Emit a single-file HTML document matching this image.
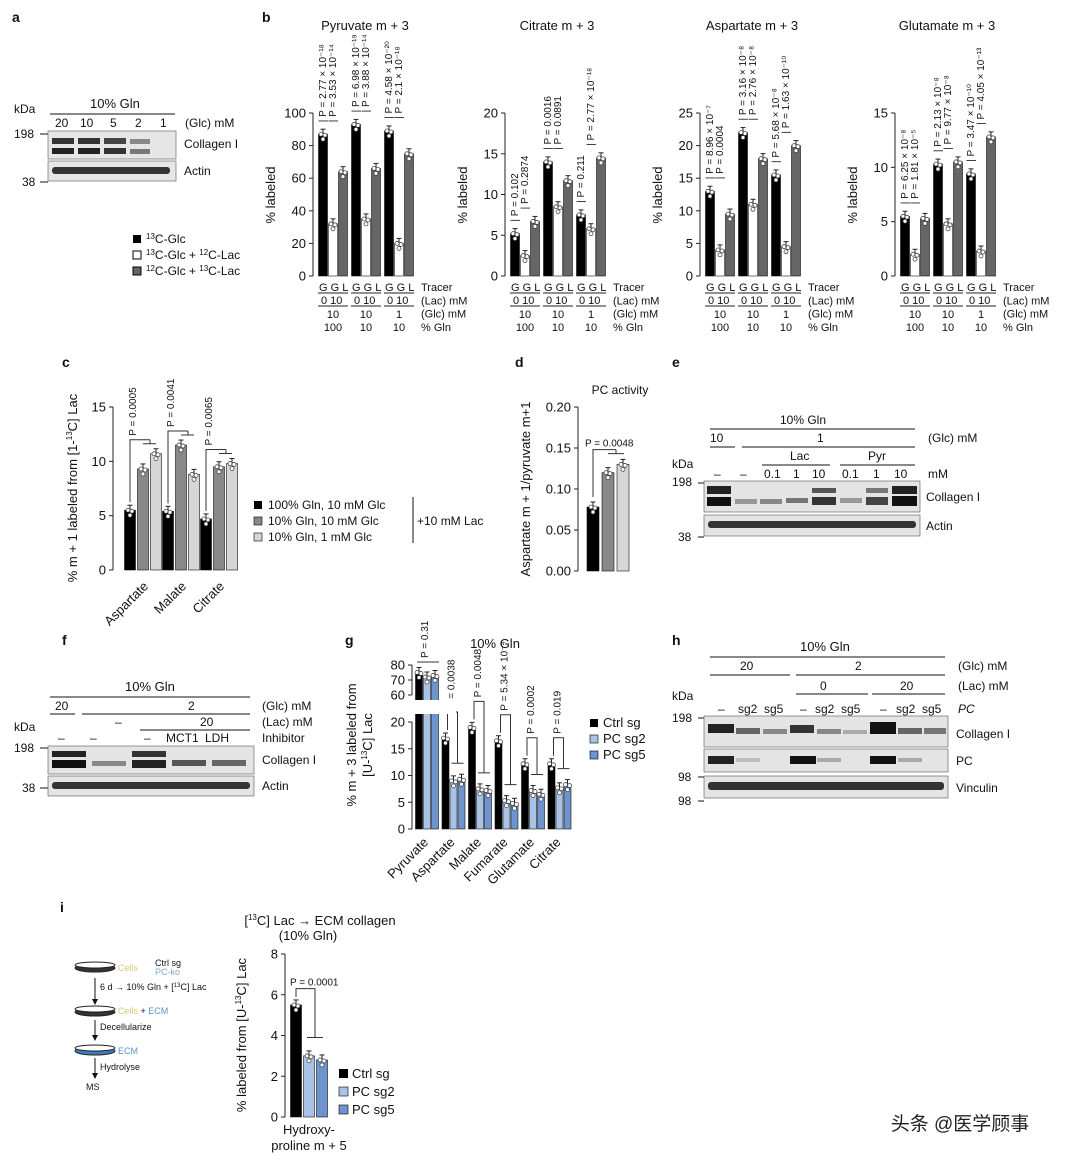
<!DOCTYPE html>
<html><head><meta charset="utf-8">
<style>
html,body{margin:0;padding:0;background:#fff}
svg{display:block;font-family:"Liberation Sans","Noto Sans CJK SC",sans-serif}
</style></head>
<body>
<svg id="fig" width="1080" height="1159" viewBox="0 0 1080 1159" xmlns="http://www.w3.org/2000/svg">
<g id="static" font-size="12" fill="#111">
  <!-- panel labels -->
  <text x="12" y="22" font-weight="bold" font-size="14">a</text>
  <text x="262" y="22" font-weight="bold" font-size="14">b</text>
  <text x="62" y="367" font-weight="bold" font-size="14">c</text>
  <text x="515" y="367" font-weight="bold" font-size="14">d</text>
  <text x="672" y="367" font-weight="bold" font-size="14">e</text>
  <text x="62" y="645" font-weight="bold" font-size="14">f</text>
  <text x="345" y="645" font-weight="bold" font-size="14">g</text>
  <text x="672" y="645" font-weight="bold" font-size="14">h</text>
  <text x="60" y="912" font-weight="bold" font-size="14">i</text>

  <!-- panel a blot -->
  <g>
    <text x="14" y="113">kDa</text>
    <text x="90" y="108" font-size="13">10% Gln</text>
    <line x1="50" y1="114" x2="175" y2="114" stroke="#111"/>
    <text x="55" y="127">20</text><text x="80" y="127">10</text><text x="110" y="127">5</text><text x="135" y="127">2</text><text x="160" y="127">1</text>
    <text x="185" y="127">(Glc) mM</text>
    <text x="14" y="138">198</text><line x1="40" y1="134" x2="48" y2="134" stroke="#111"/>
    <text x="22" y="186">38</text><line x1="40" y1="182" x2="48" y2="182" stroke="#111"/>
    <rect x="48" y="131" width="128" height="28" fill="#e6e6e6" stroke="#555" stroke-width="0.6"/>
    <rect x="52" y="138" width="22" height="6" fill="#333"/><rect x="52" y="148" width="22" height="6" fill="#222"/>
    <rect x="78" y="138" width="22" height="6" fill="#333"/><rect x="78" y="148" width="22" height="6" fill="#222"/>
    <rect x="104" y="138" width="22" height="6" fill="#444"/><rect x="104" y="148" width="22" height="6" fill="#333"/>
    <rect x="130" y="139" width="20" height="5" fill="#888"/><rect x="130" y="149" width="20" height="5" fill="#777"/>
    <text x="184" y="148">Collagen I</text>
    <rect x="48" y="161" width="128" height="20" fill="#e6e6e6" stroke="#555" stroke-width="0.6"/>
    <rect x="52" y="167" width="118" height="7" rx="3" fill="#333"/>
    <text x="184" y="175">Actin</text>
  </g>
  <!-- legend a/b -->
  <g>
    <rect x="133" y="235" width="8" height="8" fill="#000"/><text x="146" y="243"><tspan font-size="8" dy="-4">13</tspan><tspan dy="4">C-Glc</tspan></text>
    <rect x="133" y="251" width="8" height="8" fill="#fff" stroke="#000"/><text x="146" y="259"><tspan font-size="8" dy="-4">13</tspan><tspan dy="4">C-Glc + </tspan><tspan font-size="8" dy="-4">12</tspan><tspan dy="4">C-Lac</tspan></text>
    <rect x="133" y="267" width="8" height="8" fill="#666" stroke="#000"/><text x="146" y="275"><tspan font-size="8" dy="-4">12</tspan><tspan dy="4">C-Glc + </tspan><tspan font-size="8" dy="-4">13</tspan><tspan dy="4">C-Lac</tspan></text>
  </g>

  <!-- panel c legend -->
  <g>
    <rect x="254" y="501" width="8" height="8" fill="#000"/><text x="268" y="509">100% Gln, 10 mM Glc</text>
    <rect x="254" y="517" width="8" height="8" fill="#888" stroke="#000" stroke-width="0.6"/><text x="268" y="525">10% Gln, 10 mM Glc</text>
    <rect x="254" y="533" width="8" height="8" fill="#d6d6d6" stroke="#000" stroke-width="0.6"/><text x="268" y="541">10% Gln, 1 mM Glc</text>
    <line x1="413" y1="497" x2="413" y2="543" stroke="#111"/>
    <text x="417" y="525">+10 mM Lac</text>
  </g>
  <text x="620" y="394" text-anchor="middle">PC activity</text>

  <!-- panel e blot -->
  <g>
    <text x="780" y="424">10% Gln</text>
    <line x1="710" y1="429" x2="915" y2="429" stroke="#111"/>
    <text x="710" y="442">10</text><text x="817" y="442">1</text>
    <line x1="710" y1="447" x2="735" y2="447" stroke="#111"/><line x1="742" y1="447" x2="915" y2="447" stroke="#111"/>
    <text x="928" y="442">(Glc) mM</text>
    <text x="790" y="460">Lac</text><text x="868" y="460">Pyr</text>
    <line x1="762" y1="465" x2="830" y2="465" stroke="#111"/><line x1="840" y1="465" x2="915" y2="465" stroke="#111"/>
    <text x="672" y="468">kDa</text>
    <text x="714" y="478">–</text><text x="740" y="478">–</text><text x="764" y="478">0.1</text><text x="793" y="478">1</text><text x="812" y="478">10</text><text x="842" y="478">0.1</text><text x="873" y="478">1</text><text x="894" y="478">10</text>
    <text x="928" y="478">mM</text>
    <text x="672" y="486">198</text><line x1="698" y1="483" x2="704" y2="483" stroke="#111"/>
    <text x="678" y="541">38</text><line x1="698" y1="537" x2="704" y2="537" stroke="#111"/>
    <rect x="704" y="481" width="216" height="31" fill="#e4e4e4" stroke="#555" stroke-width="0.6"/>
    <rect x="707" y="486" width="24" height="8" fill="#222"/><rect x="707" y="497" width="24" height="9" fill="#111"/>
    <rect x="735" y="499" width="22" height="5" fill="#999"/>
    <rect x="760" y="499" width="22" height="5" fill="#888"/>
    <rect x="786" y="498" width="22" height="5" fill="#777"/>
    <rect x="812" y="488" width="24" height="5" fill="#555"/><rect x="812" y="497" width="24" height="8" fill="#333"/>
    <rect x="840" y="498" width="22" height="5" fill="#999"/>
    <rect x="866" y="488" width="22" height="5" fill="#777"/><rect x="866" y="497" width="22" height="8" fill="#444"/>
    <rect x="892" y="486" width="25" height="8" fill="#222"/><rect x="892" y="496" width="25" height="10" fill="#111"/>
    <text x="926" y="501">Collagen I</text>
    <rect x="704" y="515" width="216" height="21" fill="#e4e4e4" stroke="#555" stroke-width="0.6"/>
    <rect x="708" y="521" width="208" height="7" rx="3" fill="#333"/>
    <text x="926" y="530">Actin</text>
  </g>

  <!-- panel f blot -->
  <g>
    <text x="125" y="691" font-size="13">10% Gln</text>
    <line x1="50" y1="697" x2="250" y2="697" stroke="#111"/>
    <text x="55" y="710">20</text><text x="188" y="710">2</text>
    <line x1="50" y1="714" x2="75" y2="714" stroke="#111"/><line x1="82" y1="714" x2="250" y2="714" stroke="#111"/>
    <text x="262" y="710">(Glc) mM</text>
    <text x="115" y="726">–</text><text x="200" y="726">20</text>
    <line x1="140" y1="730" x2="250" y2="730" stroke="#111"/>
    <text x="262" y="726">(Lac) mM</text>
    <text x="14" y="731">kDa</text>
    <text x="58" y="742">–</text><text x="90" y="742">–</text><text x="144" y="742">–</text><text x="166" y="742">MCT1</text><text x="205" y="742">LDH</text>
    <text x="262" y="742">Inhibitor</text>
    <text x="14" y="752">198</text><line x1="40" y1="748" x2="48" y2="748" stroke="#111"/>
    <text x="22" y="792">38</text><line x1="40" y1="788" x2="48" y2="788" stroke="#111"/>
    <rect x="48" y="746" width="206" height="28" fill="#e4e4e4" stroke="#555" stroke-width="0.6"/>
    <rect x="52" y="751" width="34" height="6" fill="#222"/><rect x="52" y="760" width="34" height="8" fill="#111"/>
    <rect x="92" y="761" width="34" height="5" fill="#888"/>
    <rect x="132" y="751" width="34" height="6" fill="#333"/><rect x="132" y="760" width="34" height="8" fill="#222"/>
    <rect x="172" y="760" width="34" height="6" fill="#555"/>
    <rect x="212" y="760" width="34" height="6" fill="#666"/>
    <text x="262" y="764">Collagen I</text>
    <rect x="48" y="776" width="206" height="20" fill="#e4e4e4" stroke="#555" stroke-width="0.6"/>
    <rect x="52" y="782" width="198" height="7" rx="3" fill="#333"/>
    <text x="262" y="790">Actin</text>
  </g>

  <!-- panel g legend -->
  <g>
    <rect x="590" y="719" width="8" height="8" fill="#000"/><text x="603" y="727" font-size="13">Ctrl sg</text>
    <rect x="590" y="735" width="8" height="8" fill="#a9c3e6" stroke="#000" stroke-width="0.6"/><text x="603" y="743" font-size="13">PC sg2</text>
    <rect x="590" y="751" width="8" height="8" fill="#6f93cc" stroke="#000" stroke-width="0.6"/><text x="603" y="759" font-size="13">PC sg5</text>
  </g>
  <text x="495" y="648" text-anchor="middle" font-size="13">10% Gln</text>

  <!-- panel h blot -->
  <g>
    <text x="800" y="651" font-size="13">10% Gln</text>
    <line x1="710" y1="657" x2="945" y2="657" stroke="#111"/>
    <text x="740" y="670">20</text><text x="855" y="670">2</text>
    <line x1="710" y1="675" x2="790" y2="675" stroke="#111"/><line x1="796" y1="675" x2="945" y2="675" stroke="#111"/>
    <text x="958" y="670">(Glc) mM</text>
    <text x="820" y="690">0</text><text x="900" y="690">20</text>
    <line x1="796" y1="694" x2="868" y2="694" stroke="#111"/><line x1="872" y1="694" x2="945" y2="694" stroke="#111"/>
    <text x="958" y="690">(Lac) mM</text>
    <text x="672" y="700">kDa</text>
    <text x="718" y="713">–</text><text x="738" y="713">sg2</text><text x="764" y="713">sg5</text>
    <text x="800" y="713">–</text><text x="815" y="713">sg2</text><text x="841" y="713">sg5</text>
    <text x="880" y="713">–</text><text x="896" y="713">sg2</text><text x="922" y="713">sg5</text>
    <text x="958" y="713" font-style="italic">PC</text>
    <text x="672" y="722">198</text><line x1="698" y1="718" x2="704" y2="718" stroke="#111"/>
    <text x="678" y="781">98</text><line x1="698" y1="777" x2="704" y2="777" stroke="#111"/>
    <text x="678" y="805">98</text><line x1="698" y1="801" x2="704" y2="801" stroke="#111"/>
    <rect x="704" y="716" width="244" height="31" fill="#e4e4e4" stroke="#555" stroke-width="0.6"/>
    <rect x="708" y="724" width="26" height="9" fill="#222"/><rect x="736" y="728" width="24" height="6" fill="#666"/><rect x="763" y="729" width="24" height="5" fill="#888"/>
    <rect x="790" y="725" width="24" height="8" fill="#333"/><rect x="817" y="729" width="24" height="5" fill="#888"/><rect x="843" y="730" width="24" height="4" fill="#aaa"/>
    <rect x="870" y="722" width="26" height="12" fill="#111"/><rect x="898" y="728" width="24" height="6" fill="#666"/><rect x="924" y="728" width="22" height="6" fill="#777"/>
    <text x="956" y="738">Collagen I</text>
    <rect x="704" y="749" width="244" height="23" fill="#e4e4e4" stroke="#555" stroke-width="0.6"/>
    <rect x="708" y="756" width="26" height="8" fill="#222"/><rect x="736" y="758" width="24" height="4" fill="#bbb"/>
    <rect x="790" y="756" width="26" height="8" fill="#111"/><rect x="817" y="758" width="24" height="4" fill="#aaa"/>
    <rect x="870" y="756" width="26" height="8" fill="#111"/><rect x="898" y="758" width="24" height="4" fill="#aaa"/>
    <text x="956" y="765">PC</text>
    <rect x="704" y="776" width="244" height="22" fill="#e4e4e4" stroke="#555" stroke-width="0.6"/>
    <rect x="708" y="782" width="236" height="8" rx="3" fill="#333"/>
    <text x="956" y="792">Vinculin</text>
  </g>

  <!-- panel i schematic -->
  <g font-size="9">
    <ellipse cx="95" cy="968" rx="20" ry="4" fill="#333" stroke="#222"/><ellipse cx="95" cy="965" rx="20" ry="3" fill="#fff" stroke="#222"/>
    <text x="118" y="971" fill="#d8cc70">Cells</text><text x="155" y="966">Ctrl sg</text><text x="155" y="975" fill="#7aa8d8">PC-ko</text>
    <line x1="95" y1="978" x2="95" y2="1002" stroke="#111"/><path d="M92,999 L95,1005 L98,999Z" fill="#111"/>
    <text x="100" y="990">6 d → 10% Gln + [<tspan font-size="6" dy="-3">13</tspan><tspan dy="3">C] Lac</tspan></text>
    <ellipse cx="95" cy="1012" rx="20" ry="4" fill="#333" stroke="#222"/><ellipse cx="95" cy="1009" rx="20" ry="3" fill="#fff" stroke="#222"/>
    <text x="118" y="1014"><tspan fill="#d8cc70">Cells</tspan> + <tspan fill="#5d95cc">ECM</tspan></text>
    <line x1="95" y1="1020" x2="95" y2="1038" stroke="#111"/><path d="M92,1035 L95,1041 L98,1035Z" fill="#111"/>
    <text x="100" y="1030">Decellularize</text>
    <ellipse cx="95" cy="1051" rx="20" ry="4" fill="#3e7bbd" stroke="#222"/><ellipse cx="95" cy="1048" rx="20" ry="3" fill="#fff" stroke="#222"/>
    <text x="118" y="1054" fill="#5d95cc">ECM</text>
    <line x1="95" y1="1058" x2="95" y2="1076" stroke="#111"/><path d="M92,1073 L95,1079 L98,1073Z" fill="#111"/>
    <text x="100" y="1070">Hydrolyse</text>
    <text x="86" y="1090">MS</text>
  </g>
  <g font-size="13">
    <text x="320" y="925" text-anchor="middle">[<tspan font-size="8" dy="-5">13</tspan><tspan dy="5">C] Lac → ECM collagen</tspan></text>
    <text x="308" y="940" text-anchor="middle">(10% Gln)</text>
  </g>
  <g font-size="13">
    <rect x="339" y="1069" width="9" height="9" fill="#000"/><text x="352" y="1078">Ctrl sg</text>
    <rect x="339" y="1087" width="9" height="9" fill="#a9c3e6" stroke="#000" stroke-width="0.6"/><text x="352" y="1096">PC sg2</text>
    <rect x="339" y="1105" width="9" height="9" fill="#6f93cc" stroke="#000" stroke-width="0.6"/><text x="352" y="1114">PC sg5</text>
  </g>
  <text x="960" y="1130" font-size="19" text-anchor="middle" fill="#222">头条 @医学顾事</text>
</g>
<g id="charts"></g>
</svg>
<script>
// ---- Panel b data ----
const bTitles = ["Pyruvate m + 3", "Citrate m + 3", "Aspartate m + 3", "Glutamate m + 3"];
const pyruvateVals = [[87, 32, 64], [93, 35, 66], [89, 20, 75]];
const citrateVals = [[5.2, 2.5, 6.7], [14, 8.5, 11.7], [7.5, 5.8, 14.5]];
const aspartateVals = [[13, 4, 9.5], [22, 11, 18], [15.5, 4.5, 20]];
const glutamateVals = [[5.5, 2, 5.3], [10.3, 4.8, 10.5], [9.4, 2.3, 12.8]];
const pyruvateTicks = [0, 20, 40, 60, 80, 100];
const citrateTicks = [0, 5, 10, 15, 20];
const aspartateTicks = [0, 5, 10, 15, 20, 25];
const glutamateTicks = [0, 5, 10, 15];
const bPvals = [
  ["P = 2.77 × 10⁻¹⁸","P = 3.53 × 10⁻¹⁴","P = 6.98 × 10⁻¹⁹","P = 3.88 × 10⁻¹⁴","P = 4.58 × 10⁻²⁰","P = 2.1 × 10⁻¹⁸"],
  ["P = 0.102","P = 0.2874","P = 0.0016","P = 0.0891","P = 0.211","P = 2.77 × 10⁻¹⁸"],
  ["P = 8.96 × 10⁻⁷","P = 0.0004","P = 3.16 × 10⁻⁸","P = 2.76 × 10⁻⁸","P = 5.68 × 10⁻⁸","P = 1.63 × 10⁻¹⁰"],
  ["P = 6.25 × 10⁻⁸","P = 1.81 × 10⁻⁵","P = 2.13 × 10⁻⁸","P = 9.77 × 10⁻⁸","P = 3.47 × 10⁻¹⁰","P = 4.05 × 10⁻¹³"]
];
// ---- Panel c data ----
const cCategories = ["Aspartate", "Malate", "Citrate"];
const cVals = [[5.5, 9.3, 10.7], [5.4, 11.5, 8.8], [4.7, 9.5, 9.8]];
const cTicks = [0, 5, 10, 15];
const cPvals = ["P = 0.0005", "P = 0.0041", "P = 0.0065"];
// ---- Panel d data ----
const dVals = [0.078, 0.12, 0.13];
const dTicks = [0, 0.05, 0.10, 0.15, 0.20];
const dTickLabels = ["0.00", "0.05", "0.10", "0.15", "0.20"];
// ---- Panel g data ----
const gCategories = ["Pyruvate", "Aspartate", "Malate", "Fumarate", "Glutamate", "Citrate"];
const gVals = [[75, 72, 73], [17, 9, 9.3], [19, 7.5, 7.2], [16.5, 5.3, 4.8], [12.2, 7.2, 6.5], [12.2, 7.7, 8.3]];
const gTicksLow = [0, 5, 10, 15, 20];
const gTicksHigh = [60, 70, 80];
const gPvals = ["P = 0.31", "P = 0.0038", "P = 0.0048", "P = 5.34 × 10⁻⁴", "P = 0.0002", "P = 0.019"];
// ---- Panel i data ----
const iVals = [5.5, 3.0, 2.8];
const iTicks = [0, 2, 4, 6, 8];

const NS = "http://www.w3.org/2000/svg";
const root = document.getElementById("charts");
function mk(tag, attrs, parent, txt) {
  const e = document.createElementNS(NS, tag);
  for (const k in attrs) e.setAttribute(k, attrs[k]);
  if (txt !== undefined) e.textContent = txt;
  (parent || root).appendChild(e);
  return e;
}
function yScale(v, vmin, vmax, y0, y1) { return y0 - (v - vmin) / (vmax - vmin) * (y0 - y1); }
function yAxis(g, x, ticks, labels, y, fs) {
  mk("line", {x1: x, y1: y(ticks[0]), x2: x, y2: y(ticks[ticks.length - 1]), stroke: "#222"}, g);
  ticks.forEach((t, i) => {
    mk("line", {x1: x - 4, y1: y(t), x2: x, y2: y(t), stroke: "#222"}, g);
    mk("text", {x: x - 7, y: y(t) + 4.5, "text-anchor": "end", "font-size": fs || 13, fill: "#111"}, g, labels ? labels[i] : t);
  });
}
function bar(g, cx, w, v, y, fill, yBase) {
  const top = y(v), base = yBase;
  const r = mk("rect", {x: cx - w / 2, y: top, width: w, height: base - top, fill: fill, stroke: "#111", "stroke-width": 0.6}, g);
  
  
  mk("line", {x1: cx, y1: top, x2: cx, y2: top - 5, stroke: "#222"}, g);
  mk("line", {x1: cx - 2.5, y1: top - 5, x2: cx + 2.5, y2: top - 5, stroke: "#222"}, g);
  [[-2, -2], [2, -1], [0, 3]].forEach(d => mk("circle", {cx: cx + d[0], cy: top + d[1] + 2, r: 2, fill: "#fff", stroke: "#333", "stroke-width": 0.7}, g));
}
function ylabel(g, x, y, txt, fs) {
  const t = mk("text", {x: x, y: y, transform: `rotate(-90 ${x} ${y})`, "text-anchor": "middle", "font-size": fs || 13, fill: "#111"}, g);
  t.innerHTML = txt;
  return t;
}

// ---- Panel b ----
const bSets = [[pyruvateVals, pyruvateTicks], [citrateVals, citrateTicks], [aspartateVals, aspartateTicks], [glutamateVals, glutamateTicks]];
const bAxisX = [313, 505, 700, 895];
const bFills = ["#000", "#fff", "#666"];
bSets.forEach((set, k) => {
  const g = mk("g", {});
  
  
  const vals = set[0], ticks = set[1];
  const ax = bAxisX[k];
  const y = v => yScale(v, 0, ticks[ticks.length - 1], 276, 113);
  yAxis(g, ax, ticks, null, y);
  ylabel(g, ax - 38, 195, "% labeled");
  mk("text", {x: ax + 52, y: 30, "text-anchor": "middle", "font-size": 13, fill: "#111"}, g, bTitles[k]);
  vals.forEach((grp, gi) => {
    const gx = ax + 10 + gi * 33;
    grp.forEach((v, bi) => bar(g, gx + bi * 10, 9, v, y, bFills[bi], 276));
    // x labels
    mk("text", {x: gx - 4, y: 291, "font-size": 11, fill: "#111"}, g, "G G L");
    mk("line", {x1: gx - 5, y1: 293, x2: gx + 25, y2: 293, stroke: "#222"}, g);
    mk("text", {x: gx - 2, y: 304, "font-size": 11, fill: "#111"}, g, "0  10");
    mk("line", {x1: gx - 5, y1: 306, x2: gx + 25, y2: 306, stroke: "#222"}, g);
    mk("text", {x: gx + 10, y: 318, "text-anchor": "middle", "font-size": 11, fill: "#111"}, g, ["10", "10", "1"][gi]);
    mk("text", {x: gx + 10, y: 331, "text-anchor": "middle", "font-size": 11, fill: "#111"}, g, ["100", "10", "10"][gi]);
    // p values
    [0, 1].forEach(pi => {
      const px = gx + 3 + pi * 10, py = y(Math.max(grp[0], grp[pi + 1])) - 12;
      const t = mk("text", {x: px, y: py, transform: `rotate(-90 ${px} ${py})`, "font-size": 10, fill: "#111"}, g, "| " + bPvals[k][gi * 2 + pi]);
    });
  });
  const lx = ax + 108;
  ["Tracer", "(Lac) mM", "(Glc) mM", "% Gln"].forEach((s, i) => mk("text", {x: lx, y: 291 + i * 13.3, "font-size": 11, fill: "#111"}, g, s));
});

// ---- Panel c ----
(function () {
  const g = mk("g", {});
  
  
  const ax = 113, y = v => yScale(v, 0, 15, 570, 407);
  yAxis(g, ax, cTicks, null, y);
  ylabel(g, 77, 488, '% m + 1 labeled from [1-<tspan font-size="8" dy="-5">13</tspan><tspan dy="5">C] Lac</tspan>');
  const fills = ["#000", "#888", "#d6d6d6"];
  cVals.forEach((grp, gi) => {
    const gx = ax + 17 + gi * 38;
    grp.forEach((v, bi) => bar(g, gx + bi * 13, 11, v, y, fills[bi], 570));
    const cx = gx + 13, cy = 587;
    mk("text", {x: cx + 6, y: cy, transform: `rotate(-45 ${cx + 6} ${cy})`, "text-anchor": "end", "font-size": 13, fill: "#111"}, g, cCategories[gi]);
    const top = y(Math.max(...grp)) - 14;
    mk("path", {d: `M${gx},${y(grp[0]) - 8} V${top} H${gx + 20} M${gx + 13},${top + 4} H${gx + 26} M${gx + 20},${top} V${top + 4}`, stroke: "#333", fill: "none"}, g);
    const px = gx + 6, py = top - 4;
    mk("text", {x: px, y: py, transform: `rotate(-90 ${px} ${py})`, "font-size": 10, fill: "#111"}, g, cPvals[gi]);
  });
})();

// ---- Panel d ----
(function () {
  const g = mk("g", {});
  
  
  const ax = 578, y = v => yScale(v, 0, 0.2, 571, 407);
  yAxis(g, ax, dTicks, dTickLabels, y);
  ylabel(g, 530, 489, "Aspartate m + 1/pyruvate m+1");
  const fills = ["#000", "#888", "#d6d6d6"];
  dVals.forEach((v, i) => bar(g, ax + 15 + i * 15, 12, v, y, fills[i], 571));
  const top = y(0.148);
  mk("path", {d: `M${ax + 15},${y(dVals[0]) - 10} V${top} H${ax + 38} M${ax + 30},${top + 4} H${ax + 46} M${ax + 38},${top} V${top + 4}`, stroke: "#333", fill: "none"}, g);
  mk("text", {x: ax + 7, y: top - 3, "font-size": 10, fill: "#111"}, g, "P = 0.0048");
})();

// ---- Panel g ----
(function () {
  const g = mk("g", {});
  
  
  const ax = 412;
  const yl = v => yScale(v, 0, 20, 829, 722);
  const yh = v => yScale(v, 60, 80, 695, 665);
  const y = v => v > 40 ? yh(v) : yl(v);
  yAxis(g, ax, gTicksLow, null, yl);
  yAxis(g, ax, gTicksHigh, null, yh);
  ylabel(g, 356, 745, "% m + 3 labeled from");
  ylabel(g, 372, 745, '[U-<tspan font-size="8" dy="-5">13</tspan><tspan dy="5">C] Lac</tspan>');
  const fills = ["#000", "#a9c3e6", "#6f93cc"];
  gVals.forEach((grp, gi) => {
    const gx = ax + 7 + gi * 26.5;
    grp.forEach((v, bi) => bar(g, gx + bi * 8, 7, v, y, fills[bi], 829));
    const cx = gx + 10, cy = 843;
    mk("text", {x: cx, y: cy, transform: `rotate(-45 ${cx} ${cy})`, "text-anchor": "end", "font-size": 13, fill: "#111"}, g, gCategories[gi]);
    const top = gi === 0 ? 662 : y(grp[0]) - 12;
    const bot = gi === 0 ? 666 : y(Math.max(grp[1], grp[2])) - 16;
    if (gi === 0) mk("line", {x1: gx - 2, y1: top, x2: gx + 20, y2: top, stroke: "#333"}, g);
    else mk("path", {d: `M${gx + 2},${y(grp[0]) - 8} V${top - 14} H${gx + 12} V${bot} M${gx + 6},${bot} H${gx + 18}`, stroke: "#333", fill: "none"}, g);
    const px = gx + 9, py = gi === 0 ? 658 : top - 18;
    mk("text", {x: px, y: py, transform: `rotate(-90 ${px} ${py})`, "font-size": 10, fill: "#111"}, g, gPvals[gi]);
  });
  // axis break
  mk("rect", {x: ax - 6, y: 700, width: 50, height: 14, fill: "#fff"}, g);
})();

// ---- Panel i ----
(function () {
  const g = mk("g", {});
  
  
  const ax = 285, y = v => yScale(v, 0, 8, 1117, 954);
  yAxis(g, ax, iTicks, null, y);
  ylabel(g, 246, 1035, '% labeled from [U-<tspan font-size="8" dy="-5">13</tspan><tspan dy="5">C] Lac</tspan>');
  const fills = ["#000", "#a9c3e6", "#6f93cc"];
  iVals.forEach((v, i) => bar(g, ax + 11 + i * 13, 11, v, y, fills[i], 1117));
  mk("path", {d: `M${ax + 11},${y(iVals[0]) - 8} V${y(6.3)} H${ax + 30} V${y(3.9)} M${ax + 22},${y(3.9)} H${ax + 38}`, stroke: "#333", fill: "none"}, g);
  mk("text", {x: ax + 5, y: y(6.3) - 3, "font-size": 10, fill: "#111"}, g, "P = 0.0001");
  mk("text", {x: ax + 24, y: 1134, "text-anchor": "middle", "font-size": 13, fill: "#111"}, g, "Hydroxy-");
  mk("text", {x: ax + 24, y: 1150, "text-anchor": "middle", "font-size": 13, fill: "#111"}, g, "proline m + 5");
})();
</script>
</body></html>
